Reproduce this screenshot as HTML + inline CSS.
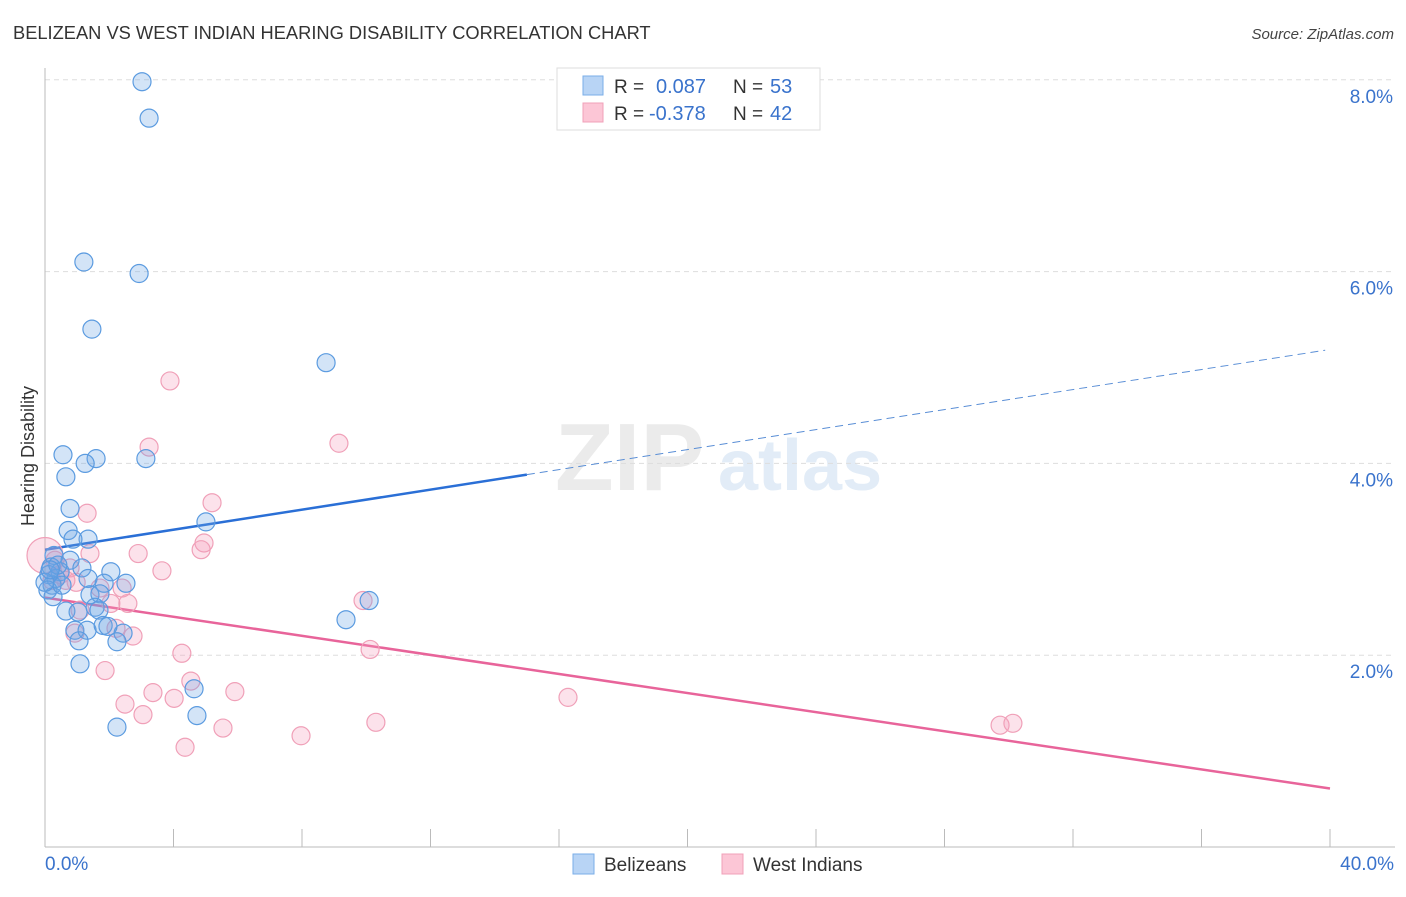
<!DOCTYPE html>
<html><head><meta charset="utf-8"><style>
body{margin:0;background:#fff;font-family:"Liberation Sans",sans-serif;}
svg text{font-family:"Liberation Sans",sans-serif;}
</style></head><body>
<svg id="chart" width="1406" height="892" viewBox="0 0 1406 892" xmlns="http://www.w3.org/2000/svg">
<text x="13" y="39" font-size="18.3" fill="#333">BELIZEAN VS WEST INDIAN HEARING DISABILITY CORRELATION CHART</text>
<text x="1394" y="39" font-size="15" fill="#444" text-anchor="end" font-style="italic">Source: ZipAtlas.com</text>
<text x="555" y="490" font-size="96" fill="#ebebeb" font-family="Liberation Serif" font-weight="bold">ZIP</text>
<text x="718" y="490" font-size="72" fill="#e2ecf7" font-weight="bold">atlas</text>
<text transform="translate(34,456) rotate(-90)" font-size="18" fill="#333" text-anchor="middle">Hearing Disability</text>
<g id="grid"></g><g id="axes"></g><g id="lines"></g><g id="pts"></g>
<g>
<rect x="557" y="68" width="263" height="62" fill="#fff" stroke="#ddd"/>
<rect x="583" y="76" width="20" height="19" fill="#b8d4f5" stroke="#7aaee8"/>
<rect x="583" y="103" width="20" height="19" fill="#fcc6d6" stroke="#f0a0b8"/>
<text x="614" y="93" font-size="19" fill="#333">R = </text><text x="656" y="93" font-size="20" fill="#3a73cc">0.087</text>
<text x="733" y="93" font-size="19" fill="#333">N = </text><text x="770" y="93" font-size="20" fill="#3a73cc">53</text>
<text x="614" y="120" font-size="19" fill="#333">R = </text><text x="649" y="120" font-size="20" fill="#3a73cc">-0.378</text>
<text x="733" y="120" font-size="19" fill="#333">N = </text><text x="770" y="120" font-size="20" fill="#3a73cc">42</text>
</g>
<g>
<rect x="573" y="854" width="21" height="20" fill="#b8d4f5" stroke="#7aaee8"/>
<text x="604" y="871" font-size="19" fill="#333">Belizeans</text>
<rect x="722" y="854" width="21" height="20" fill="#fcc6d6" stroke="#f0a0b8"/>
<text x="753" y="871" font-size="19" fill="#333">West Indians</text>
</g>
</svg>
<script>
const xTicks=[0,4,8,12,16,20,24,28,32,36,40];
const yTicks=[2,4,6,8];
const blueX=[3.02,3.24,1.21,2.93,1.46,8.75,0.56,1.59,1.25,3.14,0.65,0.78,5.01,0.72,1.34,0.87,0.28,0.78,0.19,1.15,0.47,0.12,0.34,1.34,2.05,2.52,1.84,0.22,0.09,1.40,1.71,0.25,0.65,1.03,1.56,1.68,9.37,10.09,0.93,1.31,1.81,2.43,1.06,2.24,1.09,4.64,4.73,2.24,1.96,0.40,0.0,0.16,0.53];
const blueY=[7.98,7.60,6.10,5.98,5.40,5.05,4.09,4.05,4.00,4.05,3.86,3.53,3.39,3.30,3.21,3.21,3.04,2.99,2.92,2.91,2.87,2.84,2.80,2.80,2.87,2.75,2.75,2.73,2.68,2.63,2.64,2.61,2.46,2.45,2.50,2.47,2.37,2.57,2.26,2.26,2.31,2.23,2.15,2.14,1.91,1.65,1.37,1.25,2.30,2.94,2.76,2.89,2.73];
const pinkX=[3.89,3.24,9.15,1.31,5.20,4.95,1.40,2.90,4.86,3.64,0.31,0.47,0.78,0.22,0.97,1.71,2.40,2.05,2.58,9.90,0.93,2.74,4.26,10.12,1.87,4.54,3.36,2.49,4.02,5.91,3.05,5.54,10.30,16.28,7.97,4.36,29.73,30.13,0.65,2.21,1.09,0.0];
const pinkY=[4.86,4.17,4.21,3.48,3.59,3.17,3.06,3.06,3.10,2.88,2.99,2.84,2.91,2.78,2.76,2.70,2.70,2.54,2.54,2.57,2.23,2.20,2.02,2.06,1.84,1.73,1.61,1.49,1.55,1.62,1.38,1.24,1.30,1.56,1.16,1.04,1.27,1.29,2.78,2.28,2.47,3.04];
const blueTrend=[3.10,5.18]; // y at x=0 and x=39.85, solid to 15
const pinkTrend=[2.60,0.61];  // y at x=0 and x=40
const NS="http://www.w3.org/2000/svg";
const X=v=>45+v*1285/40, Y=v=>847-v*95.9;
function mk(tag,attrs,parent){const e=document.createElementNS(NS,tag);for(const k in attrs)e.setAttribute(k,attrs[k]);document.getElementById(parent).appendChild(e);return e;}
yTicks.forEach(t=>{
 const l=mk('line',{x1:45,x2:1395,y1:Y(t),y2:Y(t),stroke:'#ddd','stroke-dasharray':'5,4'},'grid');
 
 
 const tx=mk('text',{x:1393,y:Y(t)+23,'font-size':19,fill:'#3a73cc','text-anchor':'end'},'grid');tx.textContent=t.toFixed(1)+'%';
 
 
});
mk('line',{x1:45,x2:45,y1:68,y2:847,stroke:'#bbb'},'axes');
mk('line',{x1:45,x2:1395,y1:847,y2:847,stroke:'#bbb'},'axes');
xTicks.forEach(t=>{const l=mk('line',{x1:X(t),x2:X(t),y1:829,y2:847,stroke:'#bbb'},'axes');
 
 });
[[0,'start',45],[40,'end',1394]].forEach(([t,a,x])=>{const tx=mk('text',{x:x,y:870,'font-size':19,fill:'#3a73cc','text-anchor':a},'axes');tx.textContent=t.toFixed(1)+'%';
 
 });
const by=x=>blueTrend[0]+(blueTrend[1]-blueTrend[0])*x/39.85;
let l=mk('line',{x1:X(0),y1:Y(by(0)),x2:X(15),y2:Y(by(15)),stroke:'#2a6fd6','stroke-width':2.5},'lines');


l=mk('line',{x1:X(15),y1:Y(by(15)),x2:X(39.85),y2:Y(by(39.85)),stroke:'#5b8fd6','stroke-width':1,'stroke-dasharray':'8,5'},'lines');


l=mk('line',{x1:X(0),y1:Y(pinkTrend[0]),x2:X(40),y2:Y(pinkTrend[1]),stroke:'#e8649a','stroke-width':2.5},'lines');


pinkX.forEach((x,i)=>{const c=mk('circle',{cx:X(x),cy:Y(pinkY[i]),r:i==pinkX.length-1?18:9,fill:'rgba(245,160,190,0.3)',stroke:'#f0a0b8','stroke-width':1.2},'pts');
 
 });
blueX.forEach((x,i)=>{const c=mk('circle',{cx:X(x),cy:Y(blueY[i]),r:9,fill:'rgba(110,165,230,0.3)',stroke:'#5b9be0','stroke-width':1.2},'pts');
 
 });
</script>
</body></html>
